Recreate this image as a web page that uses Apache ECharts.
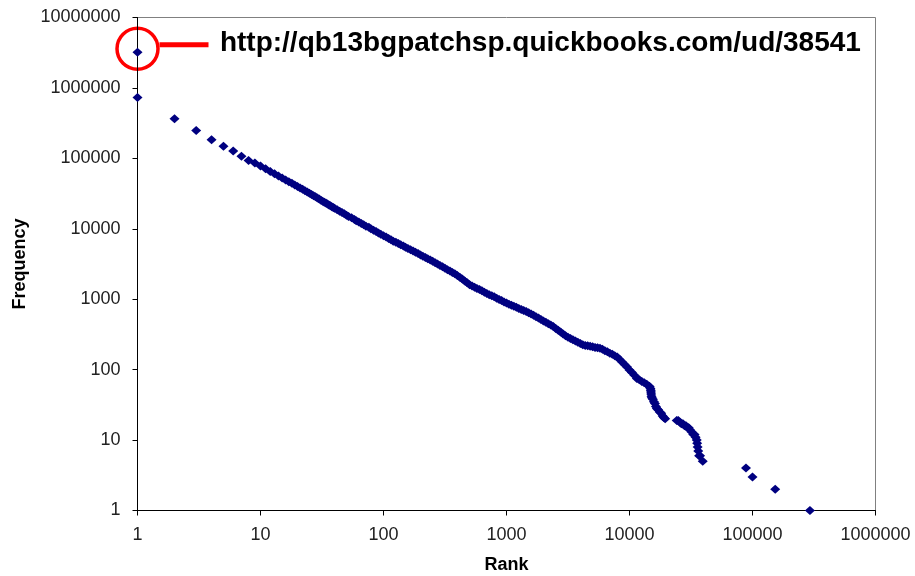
<!DOCTYPE html>
<html>
<head>
<meta charset="utf-8">
<script src="https://cdn.jsdelivr.net/npm/echarts@6/dist/echarts.min.js"></script>
<style>
html,body{margin:0;padding:0;background:#fff;}
#chart{width:915px;height:576px;}
</style>
</head>
<body>
<div id="chart"></div>
<script>
// Rank (x) values
var ranks = [
  1, 1, 2, 3, 4, 5, 6, 7, 8,
  9, 10, 11, 12, 13, 14, 15, 16, 17, 18, 19, 20,
  21, 22, 23, 24, 25, 26, 27, 28, 29, 30, 31, 32, 33, 34, 35, 36, 37, 38, 39, 40,
  42, 44, 46, 48, 50, 52, 55, 58, 60, 63, 66, 69, 72, 76, 79,
  83, 87, 91, 95, 100, 105, 110, 115, 120, 126, 132, 138, 145, 151, 158,
  166, 174, 182, 191, 200, 209, 219, 229, 240, 251, 263, 275, 288, 302, 316,
  331, 347, 363, 380, 398, 417, 437, 457, 479, 501, 525, 550, 575, 603, 631,
  661, 692, 724, 759, 794, 832, 871, 912, 955, 1000, 1047, 1096, 1148, 1202, 1259,
  1318, 1380, 1445, 1514, 1585, 1660, 1738, 1820, 1905, 1995, 2089, 2188, 2291, 2399, 2512,
  2630, 2754, 2884, 3020, 3162, 3311, 3467, 3631, 3802, 3981, 4169, 4365, 4571, 4786, 5012,
  5248, 5495, 5754, 6026, 6310, 6607, 6918, 7244, 7586, 7943, 8318, 8710, 9120, 9550, 10000,
  10470, 10960, 11480, 12020, 12590, 13180, 13800, 14450,
  14600, 14800, 14900, 14950, 15000, 15100, 15200, 15500, 15800, 16100, 16400, 16700,
  17100, 17600, 18100, 18600, 19000, 19500,
  24200, 24900, 25600, 26400, 27200, 28000, 28800, 29600, 30300, 31000,
  32000, 33000, 33800, 34500, 35200, 35500, 35800, 36200, 36800, 37500, 39400,
  88500, 100000, 153000, 293000
];
// Frequency (y) values
var freqs = [
  3200000, 730000, 364000, 248000, 183000, 149000, 127000, 107000, 93000,
  86100, 77800, 71000, 65200, 60300, 56200, 52600, 49400, 46700, 44200, 41900, 39800,
  38000, 36400, 34800, 33400, 32000, 30700, 29500, 28400, 27400, 26400, 25500, 24700, 23900, 23200, 22500, 21800, 21200, 20600, 20000, 19500,
  18700, 17800, 17000, 16300, 15600, 14900, 14300, 13600, 13000, 12500, 11900, 11400, 10900, 10500, 10000,
  9570, 9140, 8730, 8360, 7980, 7620, 7280, 6970, 6680, 6430, 6170, 5930, 5690, 5460, 5250,
  5040, 4830, 4630, 4450, 4260, 4080, 3920, 3760, 3610, 3460, 3300, 3160, 3020, 2880, 2750,
  2630, 2510, 2400, 2300, 2180, 2050, 1930, 1820, 1710, 1610, 1540, 1480, 1420, 1370, 1315,
  1260, 1210, 1160, 1120, 1080, 1030, 993, 955, 916, 881, 851, 822, 794, 767, 741,
  716, 692, 668, 644, 619, 592, 565, 540, 515, 492, 470, 449, 429, 409, 385,
  362, 341, 321, 303, 288, 277, 266, 255, 245, 236, 226, 221, 218, 214, 211,
  207, 205, 201, 194, 186, 179, 171, 165, 158, 151, 139, 128, 118, 109, 99,
  91, 83, 75, 72, 68, 65, 62, 58,
  57, 54, 51, 48, 45, 42, 40, 38, 35, 33, 30, 28,
  27, 25, 24, 22, 21, 20,
  19, 19, 18, 17, 17, 16, 16, 15, 15, 14,
  13, 12, 12, 11, 10, 9, 8, 7, 6, 6, 5,
  4, 3, 2, 1
];
// Highlighted point and its annotation
var highlightPoint = [1, 3200000];
var highlightText = 'http://qb13bgpatchsp.quickbooks.com/ud/38541';

var xAxisName = 'Rank';
var yAxisName = 'Frequency';
var xMin = 1, xMax = 1000000;
var yMin = 1, yMax = 10000000;

var FONT = '"Liberation Sans", Arial, sans-serif';
var chart = echarts.init(document.getElementById('chart'), null, {renderer: 'canvas'});

function fmt(v) { return String(Math.round(v)); }

var n = Math.min(ranks.length, freqs.length);
var points = [];
for (var i = 0; i < n; i++) points.push([ranks[i], freqs[i]]);

chart.setOption({
  animation: false,
  backgroundColor: '#fff',
  grid: {
    left: 137.5, right: 39.5, top: 17.5, bottom: 65.5,
    containLabel: false, outerBoundsMode: 'none',
    show: true, borderColor: '#808080', borderWidth: 1, backgroundColor: 'transparent'
  },
  xAxis: {
    type: 'log', logBase: 10, min: xMin, max: xMax,
    name: xAxisName, nameLocation: 'middle', nameGap: 46,
    nameTextStyle: {fontFamily: FONT, fontWeight: 'bold', fontSize: 18, color: '#000'},
    axisLine: {show: true, lineStyle: {color: '#000', width: 1}},
    axisTick: {show: true, inside: false, length: 5, lineStyle: {color: '#000'}},
    axisLabel: {fontFamily: FONT, fontSize: 18, color: '#222', margin: 16, formatter: fmt},
    splitLine: {show: false},
    minorTick: {show: false}
  },
  yAxis: {
    type: 'log', logBase: 10, min: yMin, max: yMax,
    name: yAxisName, nameLocation: 'middle', nameGap: 106, nameRotate: 90,
    nameTextStyle: {fontFamily: FONT, fontWeight: 'bold', fontSize: 18, color: '#000'},
    axisLine: {show: true, lineStyle: {color: '#000', width: 1}},
    axisTick: {show: true, inside: false, length: 5, lineStyle: {color: '#000'}},
    axisLabel: {fontFamily: FONT, fontSize: 18, color: '#222', margin: 17, formatter: fmt},
    splitLine: {show: false},
    minorTick: {show: false}
  },
  series: [{
    type: 'scatter',
    data: points,
    symbol: 'diamond',
    symbolSize: [10, 9],
    itemStyle: {color: '#000080', opacity: 1},
    emphasis: {disabled: true}
  }]
});

var p = chart.convertToPixel({seriesIndex: 0}, highlightPoint);
var cx = p[0], cy = p[1] - 3.5;
chart.setOption({
  graphic: [
    {type: 'circle', shape: {cx: cx, cy: cy, r: 20.5},
     style: {fill: 'none', stroke: '#ff0000', lineWidth: 3.5}, silent: true},
    {type: 'line', shape: {x1: cx + 22, y1: cy - 4, x2: cx + 71, y2: cy - 4},
     style: {stroke: '#ff0000', lineWidth: 5}, silent: true},
    {type: 'text', x: cx + 82.4, y: cy - 6,
     style: {text: highlightText, font: 'bold 28px ' + FONT, fill: '#000',
             align: 'left', verticalAlign: 'middle'}, silent: true}
  ]
});
</script>
</body>
</html>
